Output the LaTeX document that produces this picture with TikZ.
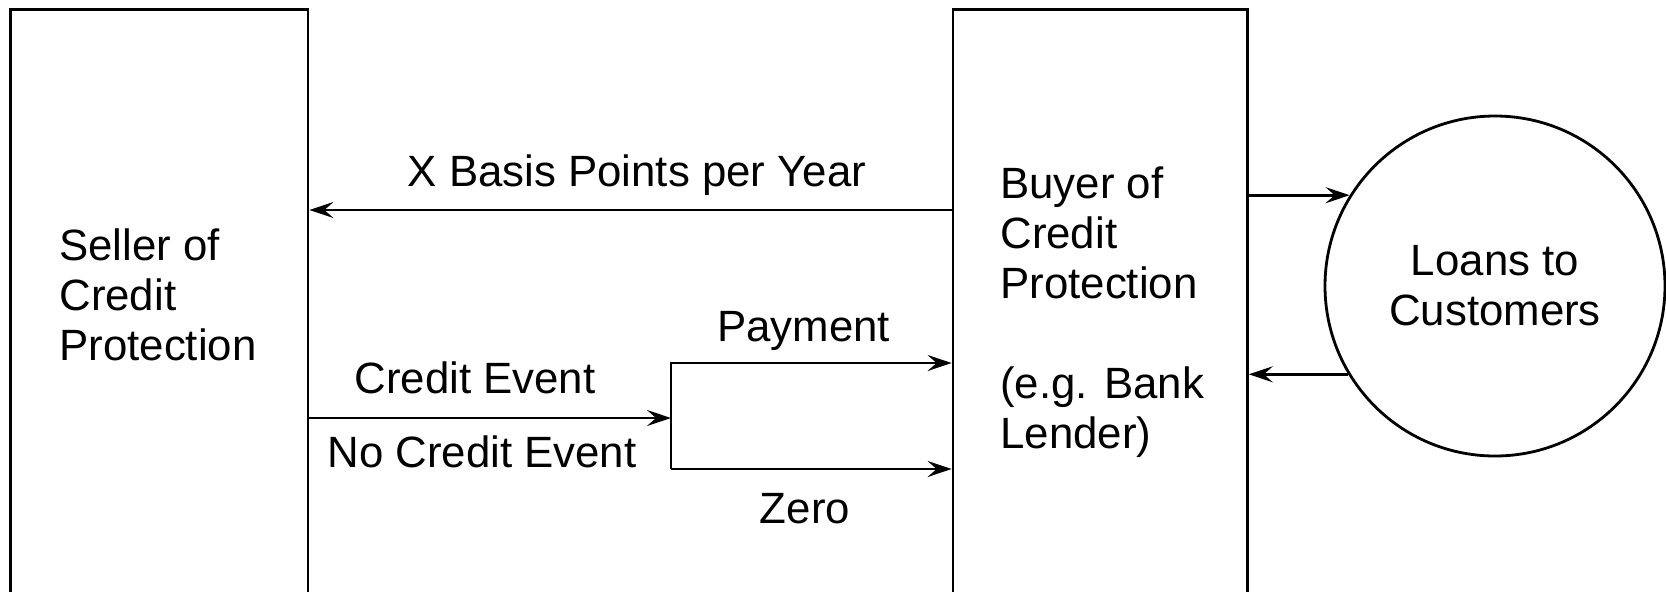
\documentclass[tikz,border=0pt]{standalone}
\usepackage{fontspec}
\setmainfont{Liberation Sans}
\usetikzlibrary{arrows.meta}

\begin{document}
\begin{tikzpicture}[x=0.5pt, y=-0.5pt,
    box/.style={draw, line width=1.4pt, inner sep=0pt},
    lbl/.style={draw=none, inner sep=0pt, font=\fontsize{21.9pt}{25pt}\selectfont},
    arr/.style={-{Stealth[length=12pt, width=8pt, inset=4.5pt]}, line width=1.4pt}]
  \useasboundingbox (0,0) rectangle (1666,591);

  % the two parties, open at the bottom
  \node[box, minimum width=148.7pt, minimum height=300pt] (seller) at (159.3, 309.6) {};
  \node[box, minimum width=147.2pt, minimum height=300pt] (buyer) at (1100.2, 309.6) {};
  \node[lbl, box, circle, minimum size=170pt, align=center] (loans) at (1495, 286) {Loans to\\Customers};

  \node[lbl, align=left, anchor=west] (sellertxt) at (59, 294.5) {Seller of\\Credit\\Protection};
  \node[lbl, align=left, anchor=west] (buyertxt) at (1000, 312.4) {Buyer of\\Credit\\Protection\\[25pt](e.g. Bank\\Lender)};

  % levels of the flows
  \coordinate (feelvl) at (0, 210);
  \coordinate (split) at (671, 418);
  \coordinate (paylvl) at (0, 363);
  \coordinate (zerolvl) at (0, 469);

  \draw[arr] (buyer.west |- feelvl) -- (seller.east |- feelvl);
  \node[lbl, anchor=base] (feelbl) at (637, 186) {X Basis Points per Year};

  \draw[arr] (seller.east |- split) -- (split);
  \draw[arr] (split |- zerolvl) -- (split |- paylvl) -- (buyer.west |- paylvl);
  \draw[arr] (split |- zerolvl) -- (buyer.west |- zerolvl);
  \node[lbl, anchor=base] (eventlbl) at (475, 393) {Credit Event};
  \node[lbl, anchor=base] (noeventlbl) at (482, 467) {No Credit Event};
  \node[lbl, anchor=base] (paylbl) at (803.5, 341) {Payment};
  \node[lbl, anchor=base] (zerolbl) at (805, 523) {Zero};

  % loans
  \draw[arr] (buyer.east |- loans.148) -- (loans.148);
  \draw[arr] (loans.211) -- (buyer.east |- loans.211);
\end{tikzpicture}
\end{document}
